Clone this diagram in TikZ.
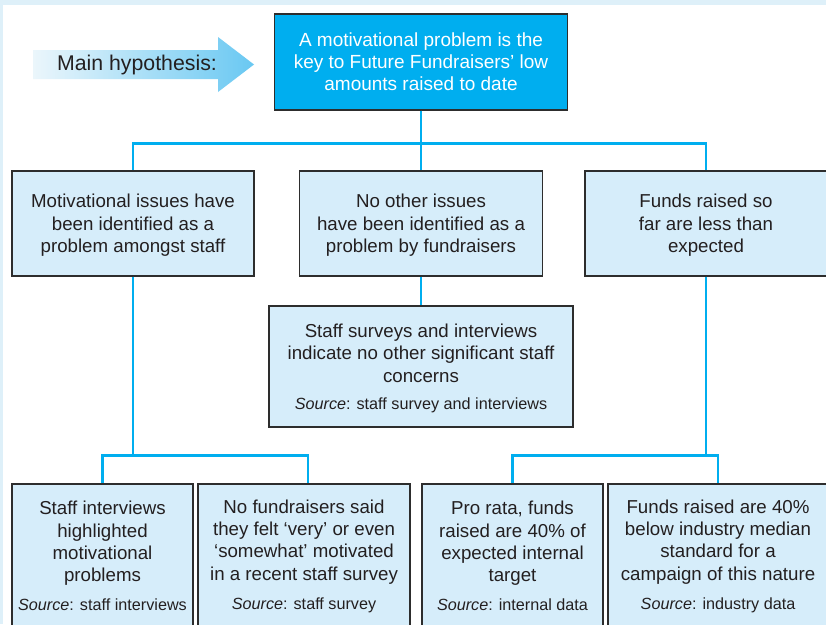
\documentclass[tikz,border=0pt]{standalone}
\usepackage{fontspec}
\setmainfont{Liberation Sans}
\usepackage{tikz}
\usetikzlibrary{calc}
\definecolor{fc_cyan}{RGB}{0, 174, 239}
\definecolor{fc_pale}{RGB}{214, 237, 250}
\definecolor{fc_frame}{RGB}{222, 240, 249}
\definecolor{fc_dark}{RGB}{45, 45, 45}
\definecolor{fc_text}{RGB}{35, 31, 32}
\definecolor{fc_arrow}{RGB}{105, 200, 242}
\tikzstyle{hyp}=[rectangle,fill=fc_cyan,draw=fc_dark,line width=1.2pt,
  text=white,align=center,inner sep=0pt,font=\fontsize{19}{22}\selectfont]
\tikzstyle{claim}=[rectangle,fill=fc_pale,draw=fc_dark,line width=1.2pt,
  text=fc_text,align=center,inner sep=0pt,font=\fontsize{18.7}{22.4}\selectfont]
\tikzstyle{link}=[draw=fc_cyan,line width=2.6pt]
\tikzstyle{none}=[]
\newcommand{\src}[1]{{\fontsize{16.2}{22.4}\selectfont\textit{Source}: #1}}

\begin{document}
\begin{tikzpicture}[x=1pt,y=-1pt]
        \clip (0, 0) rectangle (826, 624);
        \fill [fc_frame] (0, 0) rectangle (826, 624);
        \fill [white] (3, 5) rectangle (826, 624);
        \shade [left color=fc_frame!60, right color=fc_arrow] (33, 50) -- (218, 50) -- (218, 37) -- (254, 64.5) -- (218, 92) -- (218, 79) -- (33, 79) -- cycle;
        \node [style=none, text=fc_text, font=\fontsize{21.3}{24}\selectfont] (10) at (137, 64.5) {Main hypothesis:};
        \node [style=hyp, minimum width=293pt, minimum height=96pt] (0) at (421, 62) {A motivational problem is the\\key to Future Fundraisers’ low\\amounts raised to date};
        \node [style=claim, minimum width=242pt, minimum height=105pt, text depth=-2pt] (2) at (133, 223.5) {Motivational issues have\\been identified as a\\problem amongst staff};
        \node [style=claim, minimum width=243pt, minimum height=105pt, text depth=-2pt] (3) at (421, 223.5) {No other issues\\have been identified as a\\problem by fundraisers};
        \node [style=claim, minimum width=242pt, minimum height=105pt, text depth=-2pt] (4) at (706, 223.5) {Funds raised so\\far are less than\\expected};
        \node [style=claim, minimum width=304pt, minimum height=121pt, text depth=-2pt] (5) at (421, 366.5) {Staff surveys and interviews\\indicate no other significant staff\\concerns\\[4.5pt]\src{staff survey and interviews}};
        \node [style=claim, minimum width=181pt, minimum height=144pt] (6) at (102.5, 556) {Staff interviews\\highlighted\\motivational\\problems\\[6.5pt]\src{staff interviews}};
        \node [style=claim, minimum width=212pt, minimum height=144pt] (7) at (304, 556) {No fundraisers said\\they felt ‘very’ or even\\‘somewhat’ motivated\\in a recent staff survey\\[6.5pt]\src{staff survey}};
        \node [style=claim, minimum width=181pt, minimum height=144pt] (8) at (512.5, 556) {Pro rata, funds\\raised are 40\% of\\expected internal\\target\\[6.5pt]\src{internal data}};
        \node [style=claim, minimum width=220pt, minimum height=144pt] (9) at (718, 556) {Funds raised are 40\%\\below industry median\\standard for a\\campaign of this nature\\[6.5pt]\src{industry data}};
        \draw [style=link] (0.south) -- ++(0, 33) -| (2.north);
        \draw [style=link] (0.south) -- ++(0, 33) -| (4.north);
        \draw [style=link] (0.south) -- (3.north);
        \draw [style=link] (3.south) -- (5.north);
        \draw [style=link] (2.south) -- ++(0, 179) -| (6.north);
        \draw [style=link] (2.south) -- ++(0, 179) -| ([xshift=4pt]7.north);
        \draw [style=link] (4.south) -- ++(0, 179) -| (8.north);
        \draw [style=link] (4.south) -- ++(0, 179) -| (9.north);
    \end{tikzpicture}
\end{document}
